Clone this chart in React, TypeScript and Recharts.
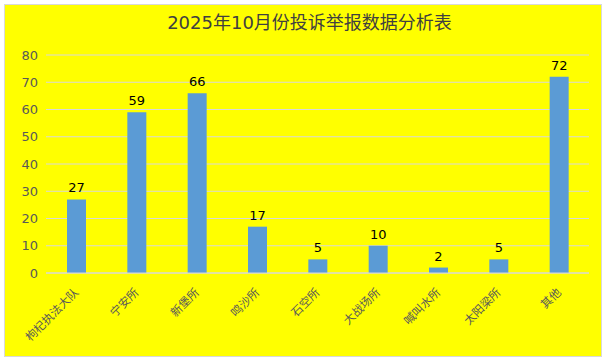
import React from 'react';
import { BarChart, Bar, XAxis, YAxis, CartesianGrid, LabelList } from 'recharts';

const categories = ['枸杞执法大队', '宁安所', '新堡所', '鸣沙所', '石空所', '大战场所', '喊叫水所', '太阳梁所', '其他'];
const counts = [27, 59, 66, 17, 5, 10, 2, 5, 72];
const yTicks = [0, 10, 20, 30, 40, 50, 60, 70, 80];
const title = '2025年10月份投诉举报数据分析表';

const data = categories.map((name, i) => ({ name, value: counts[i] }));

const FONT = '"DejaVu Sans", "Noto Sans CJK SC", sans-serif';

const XTick = (props: any) => {
  const { x, y, payload } = props;
  return (
    <g transform={`translate(${x + 3},${y + 12})`}>
      <text
        x={0}
        y={0}
        textAnchor="end"
        transform="rotate(-45)"
        fill="#595959"
        fontSize={11.5}
        fontFamily='"Noto Sans CJK SC", sans-serif'
      >
        {payload.value}
      </text>
    </g>
  );
};

export default function App() {
  return (
    <div style={{ position: 'absolute', left: 0, top: 0, width: 605, height: 360, background: '#ffffff' }}>
      <div
        style={{
          position: 'absolute',
          left: 4,
          top: 4,
          width: 598,
          height: 353,
          boxSizing: 'border-box',
          border: '1px solid #D9D9D9',
          background: '#FFFF00',
        }}
      />
      <div
        style={{
          position: 'absolute',
          left: 0,
          top: 11,
          width: 619,
          textAlign: 'center',
          fontFamily: FONT,
          fontSize: 18,
          color: '#404040',
          lineHeight: '24px',
        }}
      >
        {title}
      </div>
      <div style={{ position: 'absolute', left: 0, top: 0 }}>
        <BarChart
          width={605}
          height={360}
          data={data}
          margin={{ top: 55, right: 16, left: 0, bottom: 7 }}
        >
          <CartesianGrid vertical={false} stroke="#D9D9D9" />
          <XAxis
            dataKey="name"
            interval={0}
            height={80}
            tickLine={false}
            axisLine={{ stroke: '#D9D9D9' }}
            tick={<XTick />}
          />
          <YAxis
            width={46}
            domain={[0, 80]}
            ticks={yTicks}
            tickLine={false}
            axisLine={false}
            tick={{ fill: '#595959', fontSize: 13, fontFamily: FONT }}
          />
          <Bar dataKey="value" fill="#5B9BD5" barSize={19} isAnimationActive={false}>
            <LabelList
              dataKey="value"
              position="top"
              offset={7}
              fill="#000000"
              fontSize={13}
              fontFamily={FONT}
            />
          </Bar>
        </BarChart>
      </div>
    </div>
  );
}
